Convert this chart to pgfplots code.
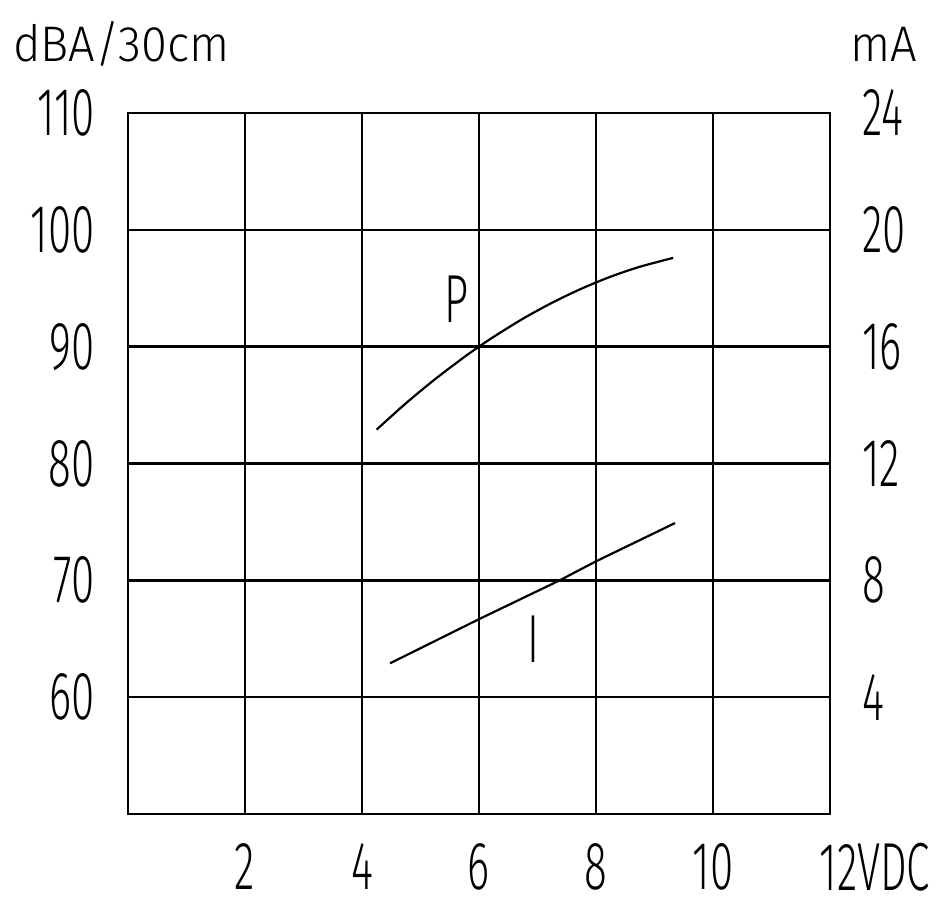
\documentclass[border=0pt]{standalone}
\usepackage{fontspec}
\setmainfont{Liberation Sans}
\newfontfamily\tickfont[FakeStretch=0.62]{Fira Sans Light}
\newfontfamily\titlefont[FakeStretch=0.94]{Fira Sans Light}
\usepackage{pgfplots}
\pgfplotsset{compat=1.18}
\begin{document}
\begin{tikzpicture}
\useasboundingbox (-64pt,-42pt) rectangle (411pt,407pt);
\begin{axis}[
 at={(0,0)}, anchor=south west,
 scale only axis, width=351pt, height=350.5pt,
 xmin=0, xmax=12, ymin=50, ymax=110,
 xtick={2,4,6,8,10,12}, ytick={60,70,80,90,100,110},
 xticklabels={2,4,6,8,10,{\makebox[10pt][l]{12VDC}}},
 grid=major, major grid style={black, line width=1.2pt},
 axis line style={line width=1.2pt},
 tick style={draw=none},
 /pgf/number format/assume math mode=true,
 ticklabel style={font=\tickfont\fontsize{34}{36}\selectfont, inner sep=0pt},
 xticklabel shift=14.5pt, yticklabel shift=16.5pt,
]
\addplot[black, line width=1.1pt, smooth] coordinates {
 (4.25,82.9) (4.75,85.15) (5.25,87.22) (5.75,89.12) (6,90) (6.25,90.84)
 (6.75,92.39) (7.25,93.76) (7.75,94.96) (8.25,95.99) (8.75,96.84) (9.32,97.6)};
\node[font=\tickfont\fontsize{34}{36}\selectfont, inner sep=0pt] at (axis cs:5.62,94.1) {P};
\node[font=\tickfont\fontsize{34}{36}\selectfont, inner sep=0pt] at (axis cs:6.93,65.0) {I};
\end{axis}
\begin{axis}[
 at={(0,0)}, anchor=south west,
 scale only axis, width=351pt, height=350.5pt,
 xmin=0, xmax=12, ymin=0, ymax=24,
 axis x line=none, axis y line*=right,
 ytick={4,8,12,16,20,24},
 axis line style={line width=1.2pt},
 tick style={draw=none},
 /pgf/number format/assume math mode=true,
 ticklabel style={font=\tickfont\fontsize{34}{36}\selectfont, inner sep=0pt},
 yticklabel shift=16pt,
]
\addplot[black, line width=1.1pt] coordinates {
 (4.48,5.16) (6,6.67) (7.38,8.0) (8,8.65) (9.35,9.96)};
\end{axis}
\node[anchor=base west, inner sep=0pt, font=\titlefont\fontsize{25}{27}\selectfont] at (-57.5pt,376pt) {dBA/30cm};
\node[anchor=base west, inner sep=0pt, font=\titlefont\fontsize{25}{27}\selectfont] at (361pt,376pt) {mA};
\end{tikzpicture}
\end{document}
